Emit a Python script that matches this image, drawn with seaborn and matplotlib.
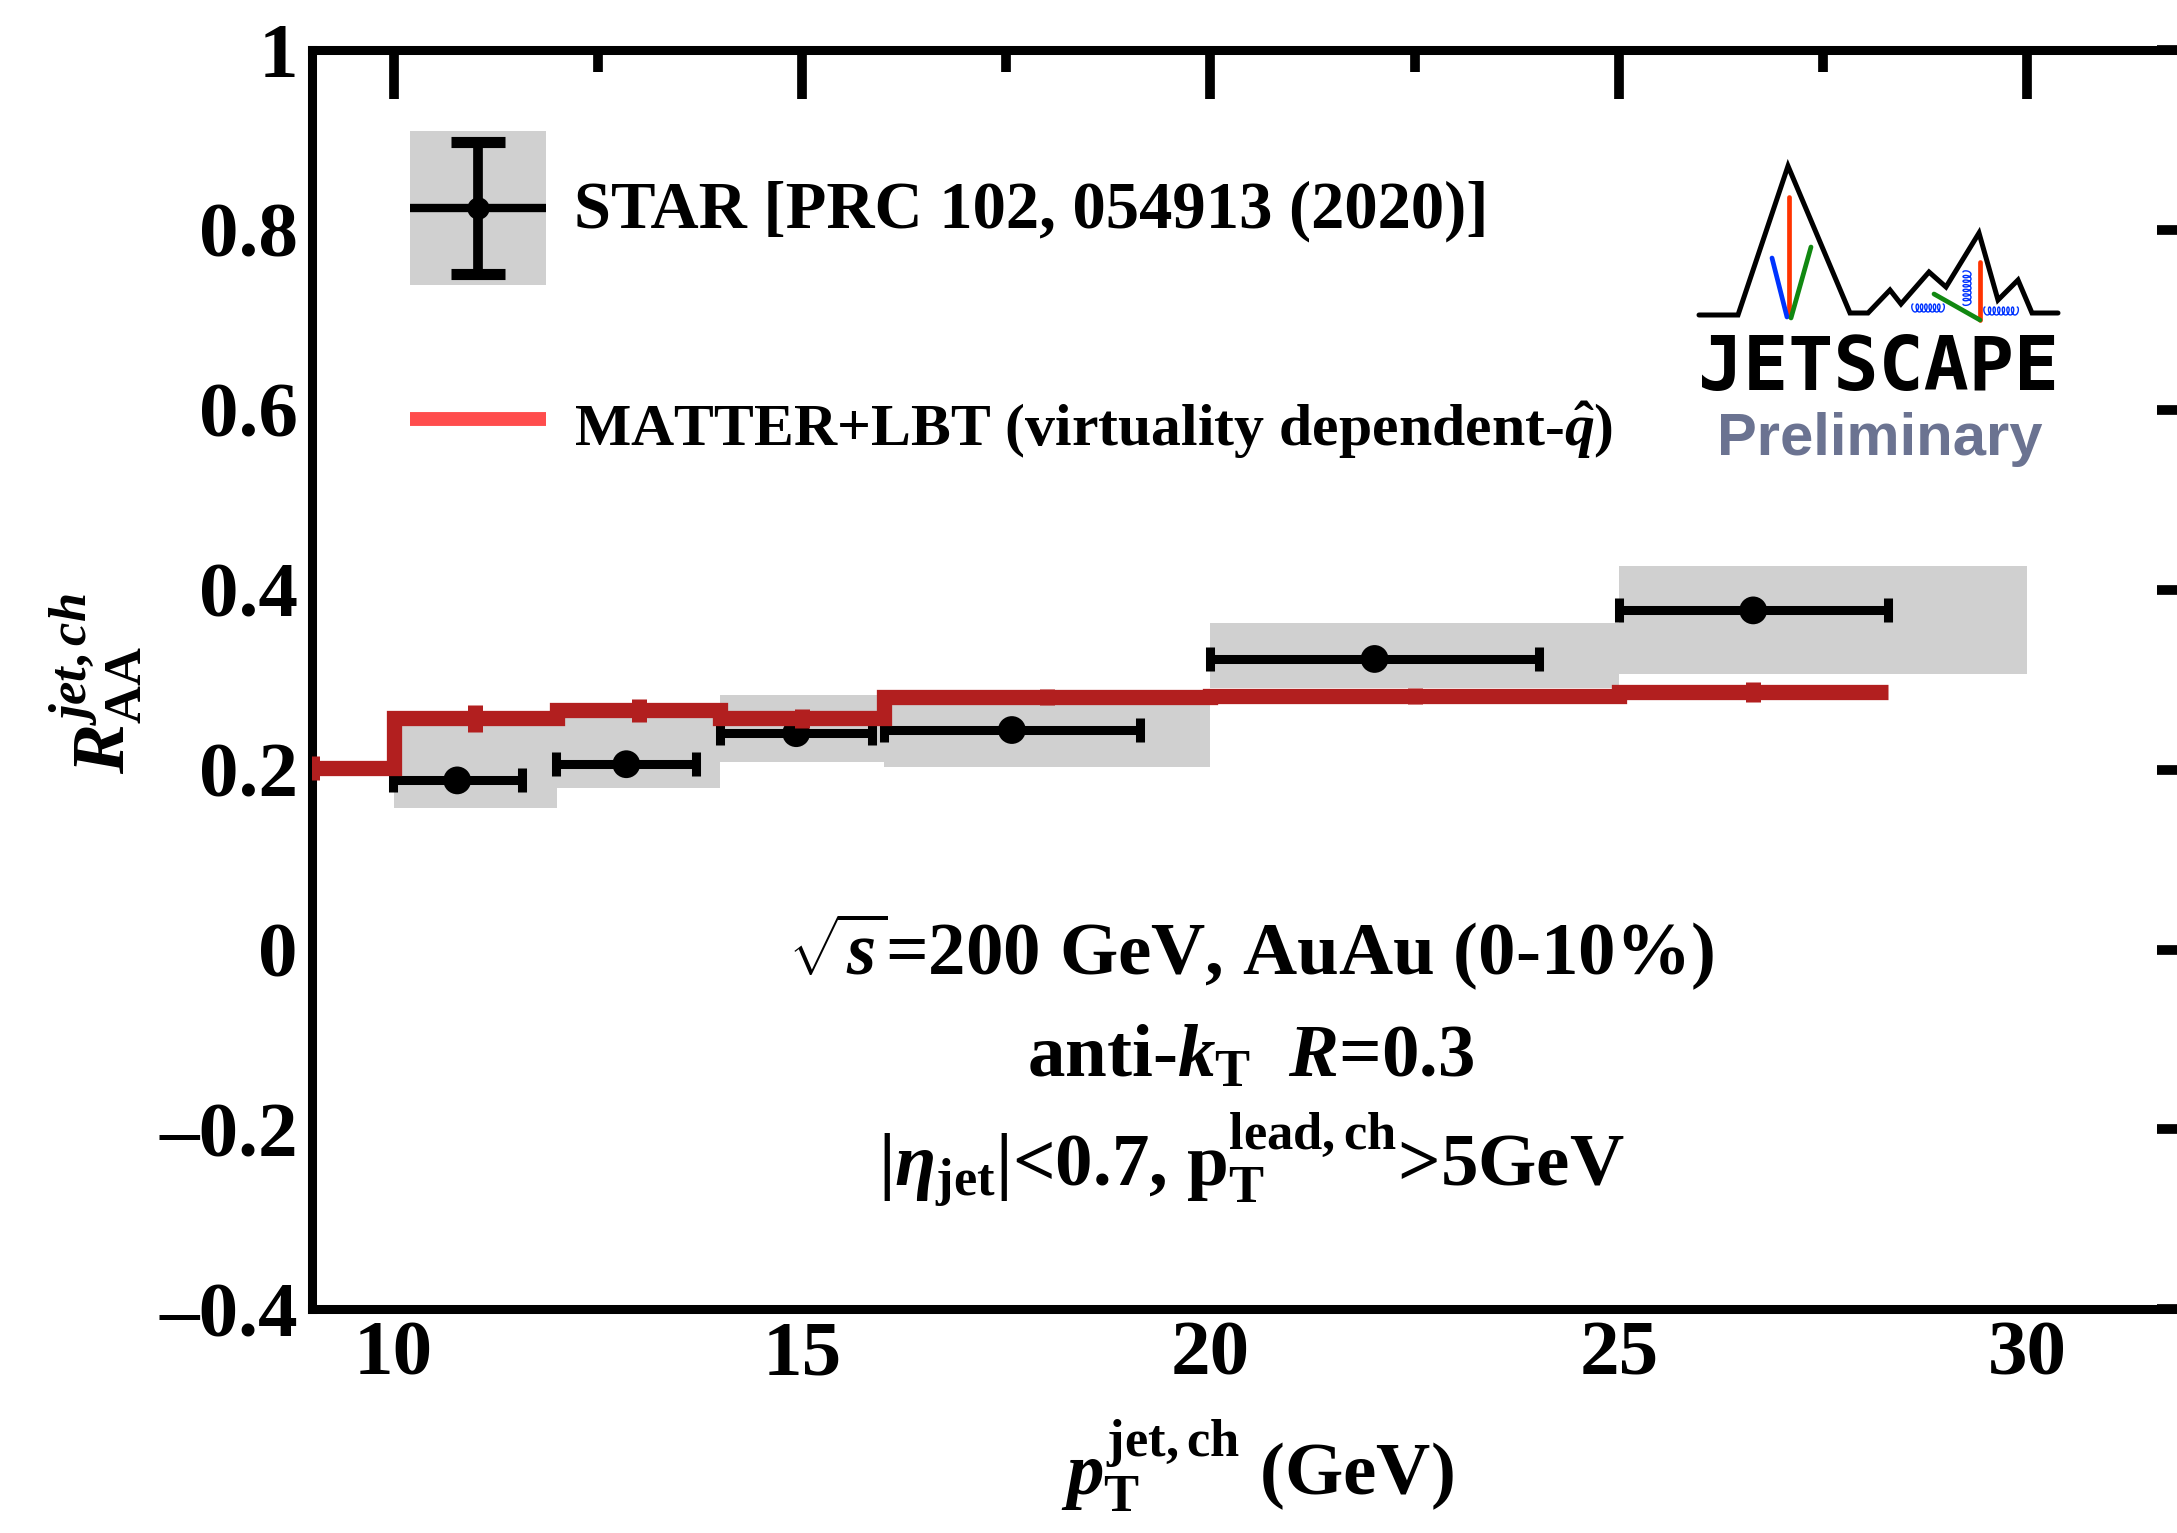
import numpy as np
import matplotlib
matplotlib.use('Agg')
import matplotlib.pyplot as plt
import seaborn as sns
from matplotlib.patches import Rectangle, Patch
from matplotlib.lines import Line2D
from matplotlib.ticker import MultipleLocator, FixedLocator, FixedFormatter

# STAR charged-jet RAA, AuAu 0-10%
star_pt = [10.78, 12.85, 14.93, 17.57, 22.01, 26.645]
star_raa = [0.188, 0.206, 0.2405, 0.244, 0.323, 0.377]
star_pt_err = [0.79, 0.855, 0.93, 1.57, 2.01, 1.645]
# systematic boxes
star_sys_edges = [10, 12, 14, 16, 20, 25, 30]
star_sys_low = [0.157, 0.180, 0.209, 0.203, 0.2905, 0.306]
star_sys_high = [0.249, 0.258, 0.283, 0.272, 0.363, 0.4265]

# MATTER+LBT histogram
model_edges = [8, 10, 12, 14, 16, 20, 25, 28.3]
model_raa = [0.202, 0.257, 0.266, 0.257, 0.2805, 0.282, 0.286]
model_pt = [9, 11, 13, 15, 18, 22.5, 26.64]
model_err = [0.013, 0.015, 0.013, 0.0105, 0.009, 0.009, 0.011]

ytick_vals = [-0.4, -0.2, 0, 0.2, 0.4, 0.6, 0.8, 1.0]
ytick_labels = ['\u20130.4', '\u20130.2', '0', '0.2', '0.4', '0.6', '0.8', '1']
xtick_vals = [10, 15, 20, 25, 30]

grey = '#d0d0d0'
dark_red = '#b21f1f'
legend_red = '#ff4d4d'

sns.set_style("white")
plt.rcParams['font.family'] = ['Liberation Serif', 'DejaVu Serif']
plt.rcParams['font.weight'] = 'bold'
plt.rcParams['axes.labelweight'] = 'bold'
for key in ['text.color', 'axes.labelcolor', 'xtick.color', 'ytick.color']:
    plt.rcParams[key] = 'black'
plt.rcParams['mathtext.fontset'] = 'custom'
plt.rcParams['mathtext.rm'] = 'Liberation Serif:bold'
plt.rcParams['mathtext.bf'] = 'Liberation Serif:bold'
plt.rcParams['mathtext.it'] = 'Liberation Serif:italic:bold'

fig = plt.figure(figsize=(21.77, 15.33), dpi=100)
ax = fig.add_axes([0.14323, 0.1459, 0.8818, 0.8215])

# systematic boxes
ax.bar(star_sys_edges[:-1], np.array(star_sys_high) - np.array(star_sys_low),
       bottom=star_sys_low, width=np.diff(star_sys_edges), align='edge',
       color=grey, lw=0, zorder=1)

# STAR points
ax.errorbar(star_pt, star_raa, xerr=star_pt_err, fmt='none', ecolor='black',
            elinewidth=6.5, capsize=8.6, capthick=6.5, zorder=2)
sns.scatterplot(x=star_pt, y=star_raa, color='black', s=400, edgecolor='none',
                zorder=3, ax=ax, legend=False)

# model step histogram
sns.lineplot(x=model_edges, y=model_raa + [model_raa[-1]], drawstyle='steps-post',
             estimator=None, sort=False, color=dark_red, lw=11,
             solid_capstyle='butt', solid_joinstyle='miter', zorder=4, ax=ax)
ax.errorbar(model_pt, model_raa, yerr=model_err, fmt='none', ecolor=dark_red,
            elinewidth=10.8, capsize=0, zorder=4.5)

ax.set_xlim(9, 32.5)
ax.set_ylim(-0.4, 1.0)

ax.xaxis.set_major_locator(FixedLocator(xtick_vals))
ax.xaxis.set_minor_locator(MultipleLocator(2.5))
ax.yaxis.set_major_locator(FixedLocator(ytick_vals))
ax.yaxis.set_major_formatter(FixedFormatter(ytick_labels))
ax.yaxis.set_minor_locator(MultipleLocator(0.1))

ax.tick_params(axis='both', which='both', direction='in', top=True, right=True,
               width=7, color='black', labelsize=57)
ax.tick_params(axis='x', which='major', length=35, pad=8)
ax.tick_params(axis='x', which='minor', length=16)
ax.tick_params(axis='y', which='major', length=53, pad=10)
ax.tick_params(axis='y', which='minor', length=25)
for s in ax.spines.values():
    s.set_linewidth(6.5)
    s.set_color('black')

ax.set_xlabel(r'$p_{\rm T}^{\rm jet,ch}$ (GeV)', fontsize=54, fontweight='bold')
ax.set_ylabel(r'$R_{\rm AA}^{jet,ch}$', fontsize=54, fontweight='bold')
ax.xaxis.set_label_coords(0.4927, -0.087)
ax.yaxis.set_label_coords(-0.087, 0.497)

# annotations
ax.text(20.5, -0.028, r'$\sqrt{s}$=200 GeV, AuAu (0-10%)', fontsize=54,
        ha='center', va='baseline')
ax.text(20.5, -0.141, r'anti-$k_{\rm T}$  $R$=0.3', fontsize=54,
        ha='center', va='baseline')
ax.text(20.5, -0.262, r'|$\eta_{\rm jet}$|<0.7, p$_{\rm T}^{\rm lead,ch}$>5GeV',
        fontsize=54, ha='center', va='baseline')


class StarHandler:
    def legend_artist(self, legend, orig_handle, fontsize, handlebox):
        x0, y0 = handlebox.xdescent, handlebox.ydescent
        w, h = handlebox.width, handlebox.height
        cx, cy = -x0 + w / 2, -y0 + h / 2
        box = Rectangle((-x0, -y0), w, h, facecolor=grey, lw=0)
        arts = [box,
                Line2D([-x0, -x0 + w], [cy, cy], color='black', lw=6, solid_capstyle='butt'),
                Line2D([cx, cx], [-y0 + 0.07 * h, -y0 + 0.93 * h], color='black', lw=7),
                Line2D([cx - 0.2 * w, cx + 0.2 * w], [-y0 + 0.07 * h] * 2, color='black', lw=8,
                       solid_capstyle='butt'),
                Line2D([cx - 0.2 * w, cx + 0.2 * w], [-y0 + 0.93 * h] * 2, color='black', lw=8,
                       solid_capstyle='butt'),
                Line2D([cx], [cy], marker='o', ms=15, color='black', lw=0)]
        for a in arts:
            handlebox.add_artist(a)
        return box


class ModelHandler:
    def legend_artist(self, legend, orig_handle, fontsize, handlebox):
        x0 = handlebox.xdescent
        w = handlebox.width
        yl = 0.4 * fontsize
        line = Line2D([-x0, -x0 + w], [yl, yl], color=orig_handle.get_color(),
                      lw=orig_handle.get_linewidth(), solid_capstyle='butt')
        handlebox.add_artist(line)
        return line


star_proxy = Patch(facecolor=grey)
model_proxy = Line2D([], [], color=legend_red, lw=10, solid_capstyle='butt')
leg = ax.legend([star_proxy, model_proxy],
                ['STAR [PRC 102, 054913 (2020)]',
                 r'MATTER+LBT (virtuality dependent-$\hat{q}$)'],
                handler_map={star_proxy: StarHandler(), model_proxy: ModelHandler()},
                loc='upper left', bbox_to_anchor=(0.051, 0.9357), frameon=False,
                fontsize=48, handlelength=2.04, handleheight=3.18, labelspacing=0.97,
                handletextpad=0.42, borderpad=0, borderaxespad=0)
leg.get_texts()[1].set_fontsize(43)

# JETSCAPE logo drawn in pixel coordinates
lax = fig.add_axes([1690 / 2177, 1 - 470 / 1533, 380 / 2177, 320 / 1533])
lax.set_xlim(1690, 2070)
lax.set_ylim(470, 150)
lax.axis('off')
mx = [1699, 1738, 1788, 1850, 1868, 1890, 1901, 1929, 1946, 1979, 1998, 2018, 2032, 2058]
my = [315, 315, 166, 313, 313, 290, 304, 272, 287, 233, 300, 280, 313, 313]
lax.plot(mx, my, color='black', lw=3.6, solid_joinstyle='miter')
lax.plot([1789, 1789], [197, 316], color='#ff3300', lw=3.4)
lax.plot([1772, 1787], [258, 317], color='#0033ff', lw=3.4)
lax.plot([1811, 1791], [247, 318], color='#118811', lw=3.4)
lax.plot([1980, 1980], [262, 320], color='#ff3300', lw=3.4)
lax.plot([1934, 1980], [294, 320], color='#118811', lw=3.4)
t = np.linspace(0, 2 * np.pi * 7, 400)
lax.plot(1913 + 4.3 * t / (2 * np.pi) - 2.2 * np.sin(t), 308 - 4 * np.cos(t),
         color='#0033ff', lw=1.0)
lax.plot(1985 + 4.6 * t / (2 * np.pi) - 2.2 * np.sin(t), 311 - 4 * np.cos(t),
         color='#0033ff', lw=1.0)
lax.plot(1967 - 4 * np.cos(t), 272 + 4.6 * t / (2 * np.pi) - 2.2 * np.sin(t),
         color='#0033ff', lw=1.0)
lax.text(1879, 390, 'JETSCAPE', fontsize=54, fontfamily='DejaVu Sans Mono',
         fontweight='bold', ha='center', va='baseline', color='black')
lax.text(1880, 455, 'Preliminary', fontsize=43, fontfamily='Liberation Sans',
         fontweight='bold', ha='center', va='baseline', color='#6b7391')

fig.savefig('out.png', dpi=100)
